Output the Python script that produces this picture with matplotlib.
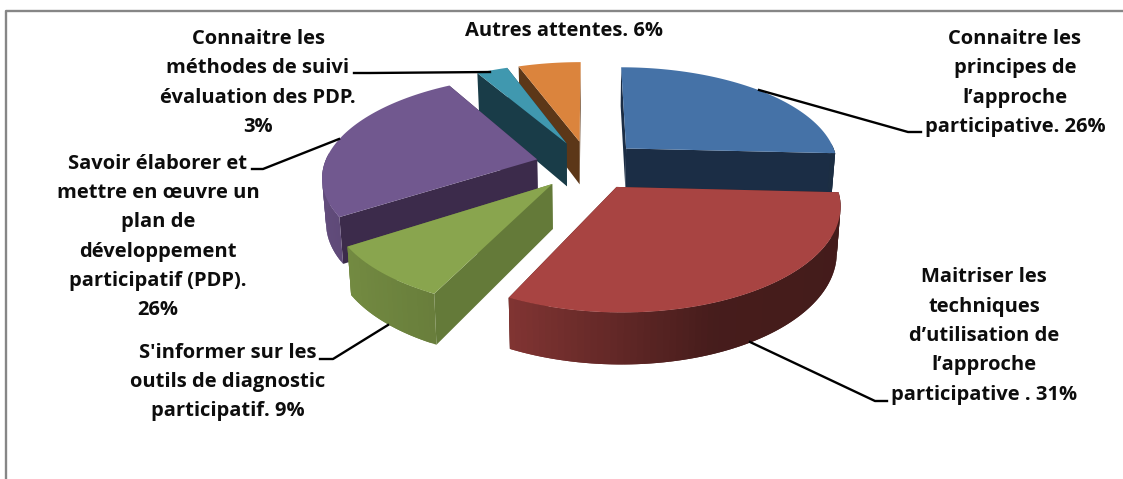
import numpy as np
import matplotlib
matplotlib.use("Agg")
import matplotlib.pyplot as plt
from matplotlib.patches import Polygon

# ---- data ----
categories = ["Connaitre les\nprincipes de\nl\u2019approche\nparticipative.",
              "Maitriser les\ntechniques\nd\u2019utilisation de\nl\u2019approche\nparticipative .",
              "S'informer sur les\noutils de diagnostic\nparticipatif.",
              "Savoir \u00e9laborer et\nmettre en \u0153uvre un\nplan de\nd\u00e9veloppement\nparticipatif (PDP).\n",
              "Connaitre les\nm\u00e9thodes de suivi\n\u00e9valuation des PDP.\n",
              "Autres attentes."]
values = [25.8, 31.4, 8.6, 25.8, 2.8, 5.6]

# ---- style ----
top_colors = ["#4572A7", "#A84442", "#89A54E", "#71588F", "#4098AF", "#DB843D"]
side_colors = ["#1B2D45", "#46201C", "#647A39", "#3C2B4B", "#193C48", "#5C3718"]
label_pos = [(1015, 83), (984, 336), (228, 382), (158, 237), (258, 83), (564, 31)]
leaders = [[(759, 90), (908, 132), (921, 132)],
           [(750, 342), (875, 401), (887, 401)],
           [(388, 325), (333, 359), (320, 359)],
           [(339, 139), (263, 169), (252, 169)],
           [(490, 72), (370, 73), (354, 73)]]
cx, cy, a, b, k, depth, bottom_scale, explode = 588.5, 165.0, 213.0, 98.5, 0.155, 44.0, 0.985, 0.25
draw_order = [5, 4, 3, 0, 2, 1]

plt.rcParams["font.family"] = ["Open Sans", "DejaVu Sans"]
fig = plt.figure(figsize=(11.23, 4.79), dpi=100, facecolor="white")
ax = fig.add_axes([0, 0, 1, 1])
ax.set_xlim(0, 1123)
ax.set_ylim(479, 0)
ax.axis("off")


def proj(X, Y, bottom=False):
    w = 1 + k * Y
    s = bottom_scale if bottom else 1.0
    return np.column_stack([cx + a * s * X / w,
                            cy - b * s * Y / w + (depth / w if bottom else 0.0)])


vals = np.array(values, float)
edges = np.concatenate([[0], np.cumsum(vals)]) / vals.sum() * 2 * np.pi


def shade(x):
    return np.interp(x, [-1, -0.42, 0.35, 1], [0.87, 0.76, 0.42, 0.40])


def poly(pts, color, z):
    ax.add_patch(Polygon(pts, closed=True, facecolor=color, edgecolor="none",
                         linewidth=0, zorder=z))


z = 1
for i in draw_order:
    t0, t1 = edges[i], edges[i + 1]
    mid = (t0 + t1) / 2
    ox, oy = explode * np.sin(mid), explode * np.cos(mid)
    th = np.linspace(t0, t1, max(int((t1 - t0) * 40), 8))
    X, Y = ox + np.sin(th), oy + np.cos(th)
    ox_a, oy_a = np.array([ox]), np.array([oy])
    for xe, ye in ((X[0], Y[0]), (X[-1], Y[-1])):
        xs, ys = np.array([ox, xe]), np.array([oy, ye])
        poly(np.vstack([proj(xs, ys), proj(xs, ys, True)[::-1]]), side_colors[i], z)
    z += 1
    base = np.array(matplotlib.colors.to_rgb(top_colors[i]))
    up, lo = proj(X, Y), proj(X, Y, True)
    n = len(th)
    for j in range(n - 1):
        if np.cos((th[j] + th[j + 1]) / 2) > 0.05:
            continue
        col = np.clip(base * shade(np.sin((th[j] + th[j + 1]) / 2)), 0, 1)
        e = min(j + 3, n)          # overlap neighbouring strips so no seams show
        poly(np.vstack([up[j:e], lo[j:e][::-1]]), col, z)
        z += 0.001
    z = np.ceil(z)
    poly(np.vstack([proj(ox_a, oy_a), up]), top_colors[i], z)
    z += 1

for seg in leaders:
    p = np.array(seg)
    ax.plot(p[:, 0], p[:, 1], color="black", lw=1.7, solid_joinstyle="round", zorder=z)

ax.plot([6, 6, 1123], [479, 11, 11], color="#868686", lw=1.7, zorder=0)

for cat, v, (x, y) in zip(categories, values, label_pos):
    sep = "" if cat.endswith("\n") else " "
    ax.text(x, y, f"{cat}{sep}{round(v)}%", ha="center", va="center", multialignment="center",
            fontsize=14.5, fontweight="bold", color="#0d0d0d", linespacing=1.62, zorder=z + 1)

fig.savefig("out.png", dpi=100, facecolor="white")
